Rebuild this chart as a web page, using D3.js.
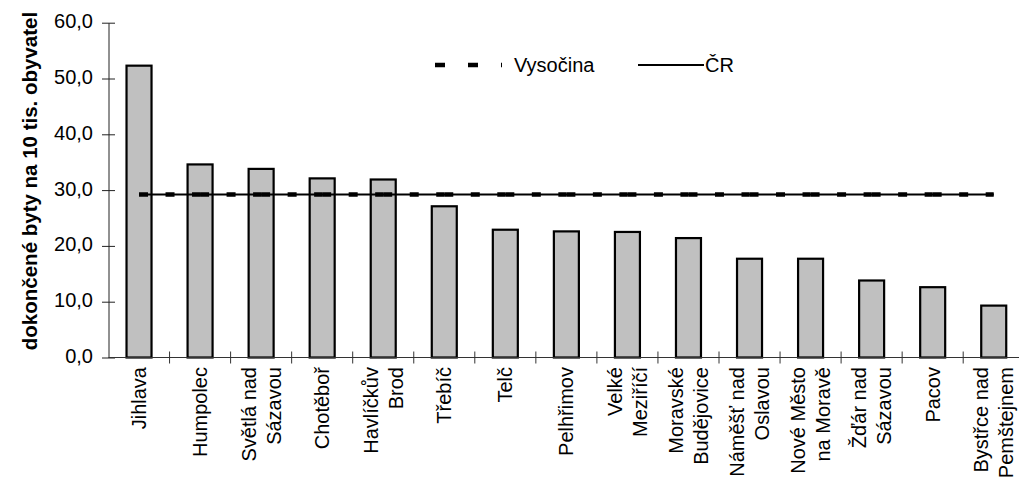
<!DOCTYPE html>
<html><head><meta charset="utf-8">
<script src="https://cdn.jsdelivr.net/npm/d3@7"></script>
<style>
html,body{margin:0;padding:0;background:#fff;}
svg{display:block;font-family:"Liberation Sans",Arial,sans-serif;}
</style></head>
<body><svg id="c" width="1019" height="482"></svg>
<script>
const categories = ["Jihlava","Humpolec","Světlá nad\nSázavou","Chotěboř","Havlíčkův\nBrod","Třebíč","Telč","Pelhřimov","Velké\nMeziříčí","Moravské\nBudějovice","Náměšť nad\nOslavou","Nové Město\nna Moravě","Žďár nad\nSázavou","Pacov","Bystřce nad\nPemštejnem"];
const values = [52.3,34.6,33.8,32.1,31.9,27.1,22.9,22.6,22.5,21.4,17.7,17.7,13.8,12.6,9.3];
const vysocina = [29.2,29.2,29.2,29.2,29.2,29.2,29.2,29.2,29.2,29.2,29.2,29.2,29.2,29.2,29.2];
const cr = [29.2,29.2,29.2,29.2,29.2,29.2,29.2,29.2,29.2,29.2,29.2,29.2,29.2,29.2,29.2];
const yTicks = [0,10,20,30,40,50,60];
const yTitle = "dokončené byty na 10 tis. obyvatel";
const legendLabels = ["Vysočina","ČR"];

const svg = d3.select("#c");
const x0 = 108.5, bw = 61.05;
const x = d3.scaleBand().domain(categories).range([x0, x0 + bw*categories.length]).padding(0);
const y = d3.scaleLinear().domain([0,60]).range([357.5, 22.7]);
const fmt = v => d3.format(".1f")(v).replace(".", ",");
const cx = c => x(c) + x.bandwidth()/2;

// bars
const barW = 25;
svg.append("g").selectAll("rect").data(values).join("rect")
  .attr("x", (d,i) => cx(categories[i]) - barW/2)
  .attr("y", d => y(d))
  .attr("width", barW)
  .attr("height", d => y(0) - y(d))
  .attr("fill", "#c0c0c0").attr("stroke", "#000").attr("stroke-width", 2.2);

// y axis
const yAxis = svg.append("g").attr("transform", `translate(${x0},0)`)
  .call(d3.axisLeft(y).tickValues(yTicks).tickFormat(fmt).tickSize(0).tickPadding(0));
yAxis.select(".domain").attr("stroke", "#222").attr("stroke-width", 1);
yAxis.selectAll(".tick line").attr("x1", -6.5).attr("x2", 6.5).attr("stroke", "#222");
yAxis.selectAll(".tick text").attr("x", -15.5).attr("dy", "0.25em")
  .attr("font-size", 20).attr("fill", "#000").attr("font-family", "Liberation Sans, Arial, sans-serif");

// x axis
const xg = svg.append("g").attr("transform", `translate(0,${y(0)})`);
xg.append("line").attr("x1", x0).attr("x2", 1019).attr("y1", 0).attr("y2", 0).attr("stroke", "#333");
xg.selectAll("line.tk").data(categories.slice(1)).join("line").attr("class","tk")
  .attr("x1", d => x(d)).attr("x2", d => x(d)).attr("y1", -6).attr("y2", 6).attr("stroke", "#333");

// x labels
const lg = svg.append("g");
categories.forEach(c => {
  const lines = c.split("\n");
  const n = lines.length;
  lines.forEach((t, j) => {
    const off = (j - (n-1)/2) * 25 + 7;
    lg.append("text")
      .attr("transform", `translate(${cx(c) + off},367) rotate(-90)`)
      .attr("text-anchor", "end").attr("font-size", 20).attr("fill", "#000")
      .text(t);
  });
});

// lines: ČR solid, Vysočina dashed (segment-wise)
const lineGen = d3.line().x((d,i) => cx(categories[i])).y(d => y(d));
svg.append("path").datum(cr).attr("d", lineGen).attr("fill","none").attr("stroke","#000").attr("stroke-width",2);
const segs = d3.range(vysocina.length - 1);
svg.append("g").selectAll("line").data(segs).join("line")
  .attr("x1", i => cx(categories[i])).attr("x2", i => cx(categories[i+1]))
  .attr("y1", i => y(vysocina[i])).attr("y2", i => y(vysocina[i+1]))
  .attr("stroke", "#000").attr("stroke-width", 4.5).attr("stroke-dasharray", "9,17.5");

// y title
svg.append("text").attr("transform", "translate(37,181) rotate(-90)")
  .attr("text-anchor", "middle").attr("font-size", 20.5).attr("font-weight", "bold").attr("fill","#000")
  .text(yTitle);

// legend
const leg = svg.append("g");
leg.append("line").attr("x1", 435).attr("x2", 502).attr("y1", 65).attr("y2", 65)
  .attr("stroke", "#000").attr("stroke-width", 4.5).attr("stroke-dasharray", "10,23");
leg.append("text").attr("x", 514).attr("y", 72).attr("font-size", 20).text(legendLabels[0]);
leg.append("line").attr("x1", 638).attr("x2", 704).attr("y1", 65).attr("y2", 65)
  .attr("stroke", "#000").attr("stroke-width", 2);
leg.append("text").attr("x", 705).attr("y", 72).attr("font-size", 20).text(legendLabels[1]);
</script></body></html>
